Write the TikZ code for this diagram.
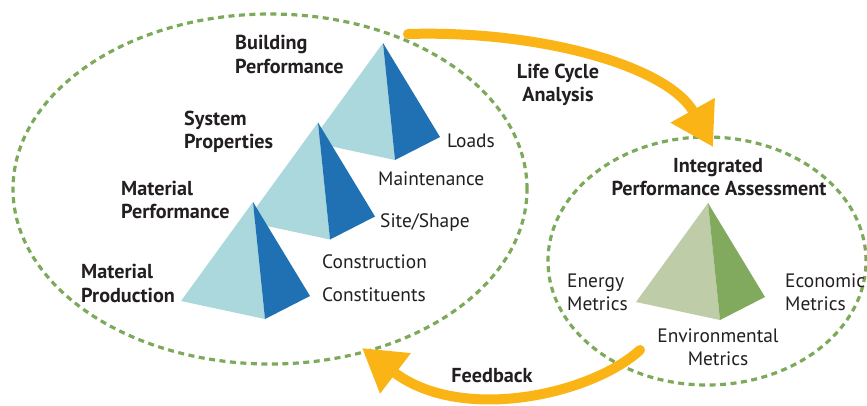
\documentclass[tikz,border=0pt]{standalone}
\usepackage{fontspec}
\setmainfont{PT Sans}
\usetikzlibrary{arrows.meta}
\definecolor{dotgreen}{HTML}{7DAA5A}
\definecolor{arroworange}{HTML}{FBB415}
\definecolor{bluelight}{HTML}{AAD8DD}
\definecolor{bluedark}{HTML}{1F71B3}
\definecolor{greenlight}{HTML}{BECCA7}
\definecolor{greendark}{HTML}{82AA5F}
\definecolor{textgray}{HTML}{231F20}
\begin{document}
\begin{tikzpicture}[x=1pt,y=-1pt,
  ring/.style={draw=dotgreen, line width=3.2pt, dash pattern=on 6pt off 4.5pt},
  flow/.style={draw=arroworange, line width=10pt, line cap=round, -{Triangle[length=42pt,width=48pt]}},
  lbl/.style={inner sep=0pt, text=textgray, font=\fontsize{19.4}{22}\selectfont},
  head/.style={inner sep=0pt, text=textgray, font=\fontsize{20.2}{23}\selectfont\bfseries},
  pics/pyramid/.style 2 args={code={
    \fill[#1] (0,0) -- (-72,99) -- (12,117) -- cycle;
    \fill[#2] (0,0) -- (12,117) -- (57,94) -- cycle;}}
]
\useasboundingbox[fill=white] (0,0) rectangle (867,405);
% dotted rings
\draw[ring] (270,189) ellipse [x radius=257pt, y radius=175pt];
\draw[ring] (707,261) ellipse [x radius=159pt, y radius=124pt];
% pyramids
\pic at (383,43) {pyramid={bluelight}{bluedark}};
\pic at (318,122.5) {pyramid={bluelight}{bluedark}};
\pic at (253,202) {pyramid={bluelight}{bluedark}};
\pic at (708,203) {pyramid={greenlight}{greendark}};
% arrows
\coordinate (lcaS) at (408,34);
\coordinate (lcaE) at (713,147);
\draw[flow] (lcaS) .. controls (540,30) and (668,66) .. (lcaE);
\coordinate (fbS) at (640,350);
\coordinate (fbE) at (362,348);
\draw[flow] (fbS) .. controls (592,394) and (462,424) .. (fbE);
% headings
\node[head, anchor=base west] (bp1) at (235,49) {Building};
\node[head, anchor=base west] (bp2) at (235,73) {Performance};
\node[head, anchor=base west] (sp1) at (184,125) {System};
\node[head, anchor=base west] (sp2) at (184,148) {Properties};
\node[head, anchor=base west] (mp1) at (121,195) {Material};
\node[head, anchor=base west] (mp2) at (121,218) {Performance};
\node[head, anchor=base west] (mq1) at (81,278) {Material};
\node[head, anchor=base west] (mq2) at (81,302) {Production};
\node[head, anchor=base] (lc1) at (558,78) {Life Cycle};
\node[head, anchor=base] (lc2) at (558,101) {Analysis};
\node[head, anchor=base] (ip1) at (718,172) {Integrated};
\node[head, anchor=base] (ip2) at (719,195) {Performance Assessment};
\node[head, anchor=base] (fb) at (492,382) {Feedback};
% labels
\node[lbl, anchor=base west] (ld) at (447,147) {Loads};
\node[lbl, anchor=base west] (mt) at (378,185) {Maintenance};
\node[lbl, anchor=base west] (ss) at (380,227) {Site/Shape};
\node[lbl, anchor=base west] (cn) at (322,268) {Construction};
\node[lbl, anchor=base west] (cs) at (322,301) {Constituents};
\node[lbl, anchor=base west] (en1) at (567,287) {Energy};
\node[lbl, anchor=base west] (en2) at (567,310) {Metrics};
\node[lbl, anchor=base west] (ec1) at (785,287) {Economic};
\node[lbl, anchor=base west] (ec2) at (785,310) {Metrics};
\node[lbl, anchor=base] (ev1) at (718,342) {Environmental};
\node[lbl, anchor=base] (ev2) at (718,365) {Metrics};
\end{tikzpicture}
\end{document}
